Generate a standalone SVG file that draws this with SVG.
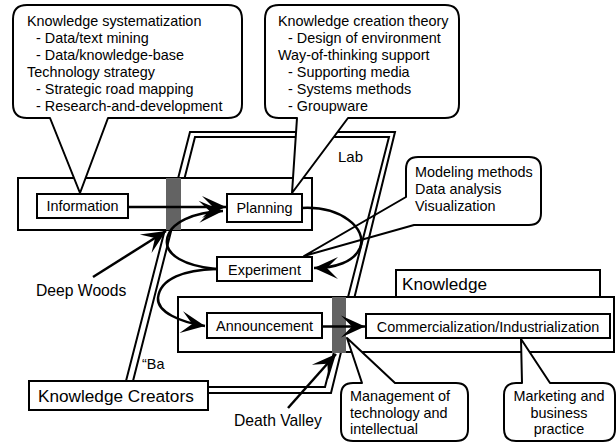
<svg xmlns="http://www.w3.org/2000/svg" width="616" height="443" viewBox="0 0 616 443">
<defs>
<style>
.t{font-family:"Liberation Sans",Arial,sans-serif;font-size:14.4px;fill:#000}
.m{text-anchor:middle}
.big{font-size:17.2px}
.lab{font-size:15.7px}
.b{fill:#fff;stroke:#000;stroke-width:2}
.c{fill:#fff;stroke:#000;stroke-width:2;stroke-linejoin:round}
.l{fill:none;stroke:#000;stroke-width:2.5}
.d{fill:none;stroke:#000;stroke-width:2;stroke-linejoin:miter}
.g{fill:#636363}
</style>
<marker id="ah" viewBox="-25 -12 26 24" refX="0" refY="0" markerWidth="26" markerHeight="24" markerUnits="userSpaceOnUse" orient="auto"><path d="M0,0 L-24,-11 L-13,0 L-24,11 Z" fill="#000"/></marker>
</defs>
<rect width="616" height="443" fill="#fff"/>

<g id="callout-methods">
<path class="c" d="M418,157 H529 Q541,157 541,169 V213 Q541,225 529,225 H414 L304,256 L406,197 V169 Q406,157 418,157 Z"/>
<text class="t" x="415" y="177">Modeling methods</text>
<text class="t" x="415" y="194">Data analysis</text>
<text class="t" x="415" y="211">Visualization</text>
</g>

<g id="ba">
<path class="d" d="M126,381 L190,132 L395,132 L331,393 L208,393"/>
<path class="d" d="M133,381 L195,137 L389,137 L325,387 L208,387"/>
<text class="t" x="338" y="162" style="font-size:15px">Lab</text>
<text class="t" x="142" y="369">“Ba</text>
</g>

<g id="lab-area">
<rect class="b" x="18" y="178" width="294" height="52"/>
<rect class="g" x="166" y="178" width="15" height="52"/>
</g>

<g id="market-area">
<rect class="b" x="178" y="297" width="436" height="55"/>
<rect class="g" x="332" y="297" width="14" height="56"/>
</g>

<g id="knowledge">
<rect class="b" x="396" y="270" width="204" height="27"/>
<text class="t big" x="402" y="290">Knowledge</text>
</g>

<g id="information">
<rect class="b" x="37" y="194" width="91" height="24"/>
<text class="t m" x="82.5" y="211">Information</text>
</g>
<g id="planning">
<rect class="b" x="227" y="194" width="75" height="28"/>
<text class="t m" x="264.5" y="213">Planning</text>
</g>
<g id="experiment">
<rect class="b" x="217" y="257" width="95" height="24"/>
<text class="t m" x="264.5" y="274.5">Experiment</text>
</g>
<g id="announcement">
<rect class="b" x="207" y="313" width="115" height="25"/>
<text class="t m" x="264.5" y="331">Announcement</text>
</g>
<g id="commercialization">
<rect class="b" x="366" y="314" width="244" height="24"/>
<text class="t m" x="488" y="331.5">Commercialization/Industrialization</text>
</g>
<g id="knowledge-creators">
<rect class="b" x="29" y="381" width="179" height="29"/>
<text class="t big" x="38" y="402">Knowledge Creators</text>
</g>

<g id="connectors">
<path class="l" d="M128,207 H226" marker-end="url(#ah)"/>
<path class="l" d="M216,269 C185,266 165,255 167,240 C169,222 195,212 223,211" marker-end="url(#ah)"/>
<path class="l" d="M302,208 C340,206 368,228 360,248 C354,262 335,268 314,268" marker-end="url(#ah)"/>
<path class="l" d="M216,269 C185,270 160,278 158,298 C157,312 180,322 205,326" marker-end="url(#ah)"/>
<path class="l" d="M322,326.5 H365" marker-end="url(#ah)"/>
<path class="l" d="M93,277 L166,231" marker-end="url(#ah)"/>
<path class="l" d="M288,408 L336,354" marker-end="url(#ah)"/>
</g>

<g id="labels">
<text class="t lab" x="36" y="296">Deep Woods</text>
<text class="t lab" x="234" y="426">Death Valley</text>
</g>

<g id="callout-systematization">
<path class="c" d="M27,5 H228 Q242,5 242,19 V104 Q242,118 228,118 H108 L80,193 L50,118 H27 Q13,118 13,104 V19 Q13,5 27,5 Z"/>
<text class="t" x="27" y="26">Knowledge systematization</text>
<text class="t" x="36" y="43">- Data/text mining</text>
<text class="t" x="36" y="60">- Data/knowledge-base</text>
<text class="t" x="27" y="77">Technology strategy</text>
<text class="t" x="36" y="94">- Strategic road mapping</text>
<text class="t" x="36" y="111">- Research-and-development</text>
</g>

<g id="callout-creation">
<path class="c" d="M279,5 H445 Q459,5 459,19 V104 Q459,118 445,118 H348 L292,193 L297,118 H279 Q265,118 265,104 V19 Q265,5 279,5 Z"/>
<text class="t" x="278" y="26">Knowledge creation theory</text>
<text class="t" x="288" y="43">- Design of environment</text>
<text class="t" x="278" y="60">Way-of-thinking support</text>
<text class="t" x="288" y="77">- Supporting media</text>
<text class="t" x="288" y="94">- Systems methods</text>
<text class="t" x="288" y="111">- Groupware</text>
</g>

<g id="callout-management">
<path class="c" d="M353,383 H362 L347,338 L395,383 H456 Q468,383 468,395 V429 Q468,441 456,441 H353 Q341,441 341,429 V395 Q341,383 353,383 Z"/>
<text class="t" x="350" y="401">Management of</text>
<text class="t" x="350" y="418">technology and</text>
<text class="t" x="350" y="434">intellectual</text>
</g>

<g id="callout-marketing">
<path class="c" d="M516,383 H522 L521,339 L550,383 H603 Q615,383 615,395 V429 Q615,441 603,441 H516 Q504,441 504,429 V395 Q504,383 516,383 Z"/>
<text class="t m" x="559" y="401">Marketing and</text>
<text class="t m" x="559" y="418">business</text>
<text class="t m" x="559" y="434">practice</text>
</g>
</svg>
